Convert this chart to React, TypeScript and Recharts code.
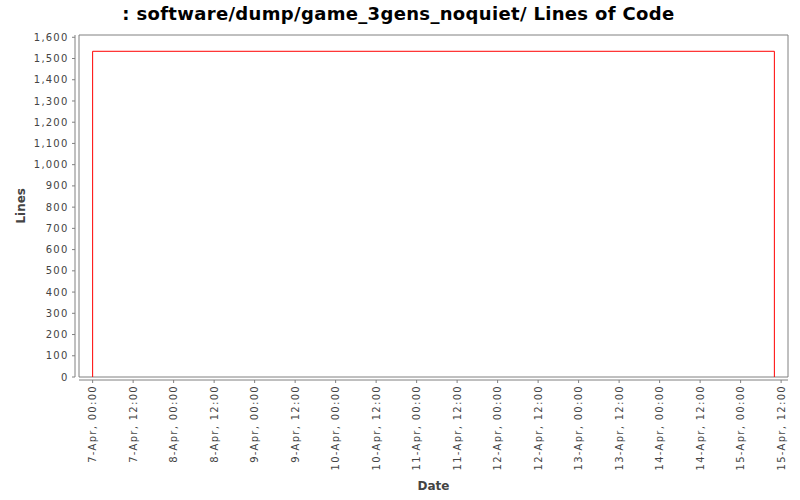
import React from 'react';
import { LineChart, Line, XAxis, YAxis, ReferenceArea } from 'recharts';

// hours since 7-Apr 00:00
const hours = [0, 0, 202, 202];
const linesOfCode = [0, 1534, 1534, 0];

const xTickHours = [0, 12, 24, 36, 48, 60, 72, 84, 96, 108, 120, 132, 144, 156, 168, 180, 192, 204];
const xTickLabels = [
  '7-Apr, 00:00', '7-Apr, 12:00', '8-Apr, 00:00', '8-Apr, 12:00', '9-Apr, 00:00', '9-Apr, 12:00',
  '10-Apr, 00:00', '10-Apr, 12:00', '11-Apr, 00:00', '11-Apr, 12:00', '12-Apr, 00:00', '12-Apr, 12:00',
  '13-Apr, 00:00', '13-Apr, 12:00', '14-Apr, 00:00', '14-Apr, 12:00', '15-Apr, 00:00', '15-Apr, 12:00',
];
const yTicks = [0, 100, 200, 300, 400, 500, 600, 700, 800, 900, 1000, 1100, 1200, 1300, 1400, 1500, 1600];

const X_MIN = -4.04;
const X_MAX = 206.04;
const Y_MAX = 1610.7;

const data = hours.map((h, i) => ({ h, v: linesOfCode[i] }));

const FONT = 'DejaVu Sans';
const AXIS_GRAY = '#808080';
const TEXT_GRAY = '#444444';

// layout
const W = 800;
const H = 500;
const M_TOP = 35;
const M_RIGHT = 12;
const M_BOTTOM = 20;
const M_LEFT = 15;
const Y_AXIS_W = 60;
const X_AXIS_H = 100;
const GAP_X = 4;
const GAP_Y = 3;
const AXIS_LEFT = M_LEFT + Y_AXIS_W;
const AXIS_BOTTOM = H - M_BOTTOM - X_AXIS_H;
const PLOT_RIGHT = W - M_RIGHT;

const XTick = (props: any) => {
  const { x, y, payload } = props;
  const idx = xTickHours.indexOf(payload.value);
  return (
    <text
      x={x}
      y={y}
      dy={3.6}
      transform={`rotate(-90 ${x} ${y})`}
      textAnchor="end"
      fontSize={10}
      fill={TEXT_GRAY}
      fontFamily={FONT}
      letterSpacing={1.3}
    >
      {xTickLabels[idx]}
    </text>
  );
};

export default function App() {
  return (
    <div style={{ position: 'absolute', left: 0, top: 0, width: W, height: H, background: '#fff' }}>
      <LineChart
        width={W}
        height={H}
        data={data}
        margin={{ top: M_TOP, right: M_RIGHT, bottom: M_BOTTOM, left: M_LEFT }}
      >
        <XAxis
          dataKey="h"
          type="number"
          domain={[X_MIN, X_MAX]}
          allowDataOverflow
          ticks={xTickHours}
          interval={0}
          height={X_AXIS_H}
          padding={{ left: GAP_X, right: 0 }}
          stroke={AXIS_GRAY}
          axisLine={false}
          tickSize={3}
          tickMargin={2}
          tick={<XTick />}
        />
        <YAxis
          type="number"
          domain={[0, Y_MAX]}
          allowDataOverflow
          ticks={yTicks}
          interval={0}
          width={Y_AXIS_W}
          padding={{ top: 0, bottom: GAP_Y }}
          stroke={AXIS_GRAY}
          axisLine={false}
          tickSize={3}
          tickMargin={3.5}
          tickFormatter={(v: number) => v.toLocaleString('en-US')}
          tick={{ fontSize: 10, fill: TEXT_GRAY, fontFamily: FONT, letterSpacing: 1.2 }}
        />
        <ReferenceArea
          x1={X_MIN}
          x2={X_MAX}
          y1={0}
          y2={Y_MAX}
          fill="none"
          fillOpacity={0}
          stroke={AXIS_GRAY}
          strokeWidth={1}
          ifOverflow="visible"
        />
        <Line
          dataKey="v"
          type="linear"
          stroke="#ff0000"
          strokeWidth={1}
          dot={false}
          activeDot={false}
          isAnimationActive={false}
        />
      </LineChart>
      <svg
        width={W}
        height={H}
        style={{ position: 'absolute', left: 0, top: 0, pointerEvents: 'none' }}
      >
        {/* offset axis lines */}
        <line
          x1={AXIS_LEFT}
          x2={AXIS_LEFT}
          y1={M_TOP}
          y2={AXIS_BOTTOM - GAP_Y}
          stroke={AXIS_GRAY}
          strokeWidth={1}
        />
        <line
          x1={AXIS_LEFT + GAP_X}
          x2={PLOT_RIGHT}
          y1={AXIS_BOTTOM}
          y2={AXIS_BOTTOM}
          stroke={AXIS_GRAY}
          strokeWidth={1}
        />
        <text
          x={398.4}
          y={19.5}
          textAnchor="middle"
          fontSize={18}
          fontWeight="bold"
          fontFamily={FONT}
          letterSpacing={0.33}
          fill="#000"
        >
          : software/dump/game_3gens_noquiet/ Lines of Code
        </text>
        <text
          x={433.5}
          y={489.5}
          textAnchor="middle"
          fontSize={12}
          fontWeight="bold"
          fontFamily={FONT}
          fill={TEXT_GRAY}
        >
          Date
        </text>
        <text
          x={25}
          y={205.8}
          transform="rotate(-90 25 205.8)"
          textAnchor="middle"
          fontSize={12}
          fontWeight="bold"
          fontFamily={FONT}
          fill={TEXT_GRAY}
        >
          Lines
        </text>
      </svg>
    </div>
  );
}
